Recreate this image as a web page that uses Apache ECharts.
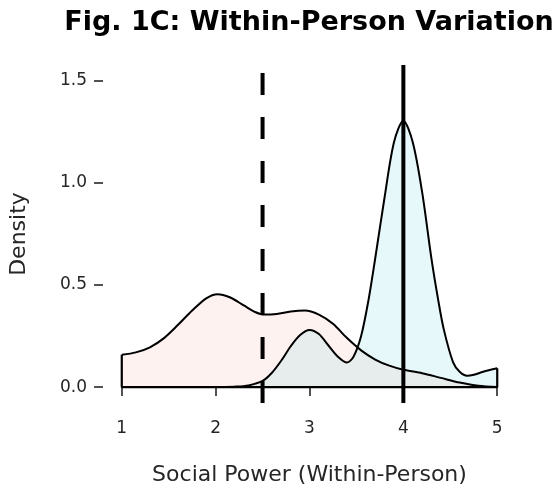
<!DOCTYPE html>
<html>
<head>
<meta charset="utf-8">
<script src="https://cdn.jsdelivr.net/npm/echarts@6/dist/echarts.min.js"></script>
<style>
html,body{margin:0;padding:0;background:#fff;}
#chart{width:558px;height:493px;}
</style>
</head>
<body>
<div id="chart"></div>
<script>
// density curve, pink
var pinkX = [1.0, 1.15, 1.3, 1.45, 1.6, 1.75, 1.9, 2.02, 2.15, 2.3, 2.42, 2.52, 2.65, 2.8, 2.95, 3.1, 3.25, 3.4, 3.55, 3.7, 3.85, 4.0, 4.2, 4.4, 4.6, 4.8, 5.0];
var pinkY = [0.158, 0.17, 0.195, 0.24, 0.305, 0.375, 0.435, 0.455, 0.44, 0.4, 0.368, 0.355, 0.358, 0.37, 0.375, 0.355, 0.31, 0.24, 0.18, 0.135, 0.105, 0.085, 0.068, 0.045, 0.022, 0.006, 0.0];
// density curve, cyan
var cyanX = [1.0, 1.5, 2.0, 2.2, 2.35, 2.5, 2.6, 2.7, 2.8, 2.9, 3.0, 3.1, 3.2, 3.3, 3.4, 3.47, 3.55, 3.63, 3.7, 3.8, 3.9, 4.0, 4.1, 4.2, 4.3, 4.37, 4.43, 4.53, 4.6, 4.68, 4.75, 4.85, 5.0];
var cyanY = [0.0, 0.0, 0.0, 0.002, 0.008, 0.03, 0.07, 0.13, 0.2, 0.255, 0.28, 0.26, 0.205, 0.15, 0.12, 0.15, 0.25, 0.43, 0.63, 0.93, 1.2, 1.305, 1.2, 0.955, 0.627, 0.43, 0.284, 0.121, 0.075, 0.055, 0.06, 0.075, 0.092];
// reference lines
var dashedAt = 2.5;
var solidAt = 4.0;
var xTicks = [1, 2, 3, 4, 5];
var yTicks = [0, 0.5, 1.0, 1.5];
var xMin = 0.8, xMax = 5.2, yMin = -0.078, yMax = 1.578;

function pairs(xs, ys) {
    var out = [];
    for (var i = 0; i < xs.length; i++) out.push([xs[i], ys[i]]);
    return out;
}

var chart = echarts.init(document.getElementById('chart'));
var font = 'DejaVu Sans';
var outline = [[pinkX[0], pinkY[0]], [pinkX[0], 0], [cyanX[cyanX.length - 1], 0], [cyanX[cyanX.length - 1], cyanY[cyanY.length - 1]]];

chart.setOption({
    animation: false,
    title: {
        text: 'Fig. 1C: Within-Person Variation',
        left: 309,
        textAlign: 'center',
        top: 9,
        padding: 0,
        textStyle: {fontFamily: font, fontSize: 27, fontWeight: 'bold', color: '#000'}
    },
    grid: {left: 103, right: 42, top: 65, bottom: 90},
    xAxis: {
        type: 'value',
        min: xMin, max: xMax,
        name: 'Social Power (Within-Person)',
        nameLocation: 'middle',
        nameGap: 61,
        nameTextStyle: {fontFamily: font, fontSize: 22, color: '#262626'},
        axisLine: {show: false},
        splitLine: {show: false},
        axisTick: {show: true, length: 9, customValues: xTicks, lineStyle: {color: '#262626', width: 1.6}},
        axisLabel: {customValues: xTicks, margin: 17, fontFamily: font, fontSize: 17, color: '#262626'}
    },
    yAxis: {
        type: 'value',
        min: yMin, max: yMax,
        name: 'Density',
        nameLocation: 'middle',
        nameGap: 73,
        nameRotate: 90,
        nameTextStyle: {fontFamily: font, fontSize: 22, color: '#262626'},
        axisLine: {show: false},
        splitLine: {show: false},
        axisTick: {show: true, length: 9, customValues: yTicks, lineStyle: {color: '#262626', width: 1.6}},
        axisLabel: {
            customValues: yTicks, margin: 16, fontFamily: font, fontSize: 17, color: '#262626',
            formatter: function (v) { return v.toFixed(1); }
        }
    },
    series: [
        {
            type: 'line', data: pairs(pinkX, pinkY), smooth: 0.3, symbol: 'none',
            lineStyle: {color: '#000', width: 2},
            areaStyle: {color: 'rgba(250,128,114,0.15)', origin: 0}
        },
        {
            type: 'line', data: pairs(cyanX, cyanY), smooth: 0.3, symbol: 'none',
            lineStyle: {color: '#000', width: 2},
            areaStyle: {color: 'rgba(48,195,208,0.16)', origin: 0}
        },
        {
            type: 'line', data: outline, symbol: 'none',
            lineStyle: {color: '#000', width: 2.2}
        },
        {
            type: 'line', data: [[dashedAt, yMin], [dashedAt, yMax]], symbol: 'none',
            lineStyle: {color: '#000', width: 4, type: [22, 22]}
        },
        {
            type: 'line', data: [[solidAt, yMin], [solidAt, yMax]], symbol: 'none',
            lineStyle: {color: '#000', width: 4}
        }
    ]
});
</script>
</body>
</html>
